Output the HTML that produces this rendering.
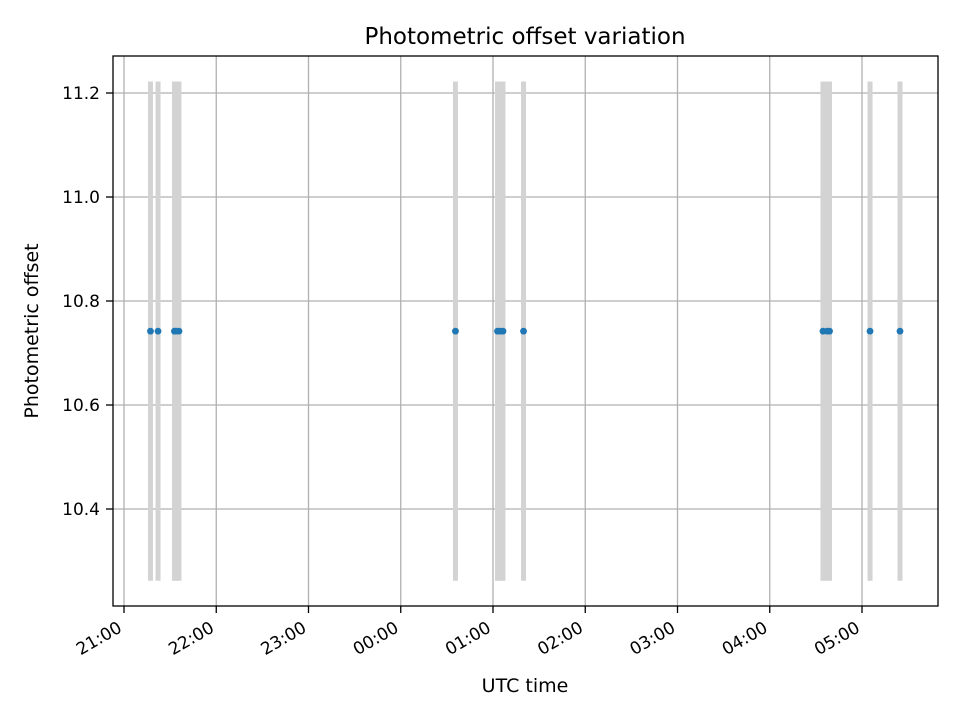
<!DOCTYPE html>
<html><head><meta charset="utf-8"><style>
body{margin:0;background:#fff;}
svg text{font-family:"DejaVu Sans","Liberation Sans",sans-serif;}
</style></head><body>
<svg id="chart" width="960" height="720" xmlns="http://www.w3.org/2000/svg">
<rect width="960" height="720" fill="#fff"/>
<text x="525" y="44" font-size="23" text-anchor="middle">Photometric offset variation</text>
<g id="grid"></g>
<g id="marks"></g>
<rect x="113" y="56" width="825" height="550" fill="none" stroke="#000" stroke-width="1.3"/>
<g id="axes"></g>
<text x="525" y="692" font-size="19" text-anchor="middle">UTC time</text>
<text transform="translate(38,331) rotate(-90)" font-size="19" text-anchor="middle">Photometric offset</text>
</svg>
<script>
// hours since 21:00 UTC
const times=[0.287,0.369,0.547,0.564,0.596,3.593,4.049,4.076,4.108,4.331,7.577,7.621,7.648,8.087,8.412];
const offsets=[10.742,10.742,10.742,10.742,10.742,10.742,10.742,10.742,10.742,10.742,10.742,10.742,10.742,10.742,10.742];
const errors=[0.48,0.48,0.48,0.48,0.48,0.48,0.48,0.48,0.48,0.48,0.48,0.48,0.48,0.48,0.48];
const xTickLabels=["21:00","22:00","23:00","00:00","01:00","02:00","03:00","04:00","05:00"];
const yTicks=[10.4,10.6,10.8,11.0,11.2];
const NS="http://www.w3.org/2000/svg";
const X=h=>124+h*92.25;
const Y=v=>509-(v-10.4)*520;
const grid=document.getElementById('grid'),marks=document.getElementById('marks'),axes=document.getElementById('axes');
function mk(tag,attrs,parent){const e=document.createElementNS(NS,tag);for(const k in attrs)e.setAttribute(k,attrs[k]);parent.appendChild(e);return e;}
xTickLabels.forEach((lab,i)=>{
  const x=X(i);
  const g=mk('line',{x1:x,x2:x,y1:56,y2:606,stroke:'#b0b0b0','stroke-width':1.3},grid);
  
  
  const t=mk('line',{x1:x,x2:x,y1:606,y2:613,stroke:'#000','stroke-width':1.3},axes);
  
  
  const tx=mk('text',{x:x-1,y:631,'font-size':17,'text-anchor':'end',transform:`rotate(-30 ${x-1} 631)`},axes);
  tx.textContent=lab;
  
  
});
yTicks.forEach(v=>{
  const y=Y(v);
  const g=mk('line',{x1:113,x2:938,y1:y,y2:y,stroke:'#b0b0b0','stroke-width':1.3},grid);
  
  
  const t=mk('line',{x1:106,x2:113,y1:y,y2:y,stroke:'#000','stroke-width':1.3},axes);
  
  
  const tx=mk('text',{x:100,y:y+6,'font-size':17,'text-anchor':'end'},axes);
  tx.textContent=v.toFixed(1);
  
  
});
times.forEach((h,i)=>{
  const x=X(h);
  const e=mk('line',{x1:x,x2:x,y1:Y(offsets[i]+errors[i]),y2:Y(offsets[i]-errors[i]),stroke:'#d3d3d3','stroke-width':5},marks);
  
  
});
times.forEach((h,i)=>{
  const c=mk('circle',{cx:X(h),cy:Y(offsets[i]),r:3.4,fill:'#1f77b4'},marks);
  
  
});
</script>
</body></html>
